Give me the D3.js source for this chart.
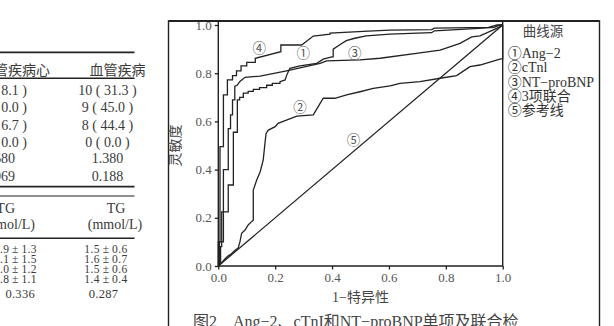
<!DOCTYPE html>
<html><head><meta charset="utf-8">
<script src="https://cdn.jsdelivr.net/npm/d3@7"></script>
<style>body{margin:0;background:#fff;}svg{display:block;}</style>
</head><body>
<svg id="c" width="614" height="326"></svg>
<script>
// ---------- table fragment (left side) ----------
const topHeader = ["管疾病心", "血管疾病"];
const topLeft = ["8.1 )", "0.0 )", "6.7 )", "0.0 )", "680", "069"];
const topRight = ["10 ( 31.3 )", "9 ( 45.0 )", "8 ( 44.4 )", "0 ( 0.0 )", "1.380", "0.188"];
const botHeader1 = ["TG", "TG"];
const botHeader2 = ["(mmol/L)", "(mmol/L)"];
const botLeft = [".9±1.3", ".1±1.5", ".0±1.2", ".8±1.1", "0.336"];
const botRight = ["1.5±0.6", "1.6±0.7", "1.5±0.6", "1.4±0.4", "0.287"];

// ---------- ROC chart data ----------
const xTicks = [0, 0.2, 0.4, 0.6, 0.8, 1.0];
const yTicks = [0, 0.2, 0.4, 0.6, 0.8, 1.0];
const xTitle = "1−特异性";
const yTitle = "灵敏度";
const legendTitle = "曲线源";
const curveMarks = ["①", "②", "③", "④", "⑤"];
const curveNames = ["Ang−2", "cTnl", "NT−proBNP", "3项联合", "参考线"];
const caption = "图2　Ang−2、cTnI和NT−proBNP单项及联合检";

// ① Ang-2
const fprAng2 = [0,0.008,0.008,0.012,0.012,0.035,0.035,0.053,0.053,0.067,0.067,0.075,0.075,0.088,0.088,0.105,0.105,0.123,0.123,0.145,0.145,0.17,0.17,0.19,0.19,0.217,0.217,0.235,0.24,0.246,0.252,0.287,0.346,0.369,0.399,0.404,0.404,0.43,0.45,0.48,0.52,0.604,0.75,0.76,0.9,0.97,0.99,1];
const tprAng2 = [0,0.012,0.08,0.08,0.225,0.225,0.336,0.336,0.555,0.555,0.689,0.689,0.70,0.70,0.717,0.717,0.725,0.725,0.733,0.733,0.74,0.74,0.75,0.75,0.758,0.758,0.765,0.772,0.79,0.806,0.82,0.83,0.841,0.858,0.868,0.868,0.90,0.92,0.935,0.945,0.955,0.962,0.968,0.976,0.985,0.99,1,1];
// ② cTnI
const fprCTnI = [0,0.01,0.024,0.035,0.045,0.059,0.07,0.076,0.082,0.094,0.105,0.117,0.123,0.123,0.135,0.147,0.158,0.164,0.168,0.176,0.2,0.21,0.235,0.276,0.334,0.369,0.41,0.451,0.498,0.545,0.604,0.639,0.709,0.78,0.838,0.885,0.92,0.99,1,1];
const tprCTnI = [0,0.012,0.03,0.042,0.05,0.065,0.075,0.1,0.136,0.149,0.17,0.184,0.19,0.315,0.357,0.39,0.44,0.509,0.55,0.564,0.578,0.592,0.603,0.622,0.627,0.696,0.696,0.71,0.723,0.737,0.747,0.758,0.765,0.779,0.79,0.827,0.834,0.858,0.86,1];
// ③ NT-proBNP
const fprNT = [0,0.004,0.004,0.018,0.018,0.035,0.035,0.043,0.043,0.05,0.05,0.058,0.058,0.067,0.075,0.094,0.147,0.24,0.358,0.381,0.498,0.569,0.709,0.78,0.85,0.891,0.92,0.979,1];
const tprNT = [0,0.01,0.1,0.1,0.4,0.4,0.57,0.57,0.627,0.627,0.689,0.689,0.745,0.751,0.765,0.783,0.788,0.81,0.841,0.851,0.855,0.862,0.884,0.896,0.924,0.951,0.955,0.986,1];
// ④ combined
const fprComb = [0,0,0.006,0.006,0.018,0.018,0.032,0.032,0.05,0.05,0.064,0.064,0.08,0.08,0.1,0.1,0.13,0.13,0.22,0.22,0.293,0.334,0.393,0.393,0.527,0.604,0.75,0.76,0.95,0.98,1];
const tprComb = [0,0.1,0.1,0.495,0.495,0.71,0.71,0.772,0.772,0.79,0.79,0.81,0.81,0.83,0.83,0.845,0.845,0.862,0.889,0.917,0.917,0.954,0.962,0.966,0.975,0.979,0.981,0.987,0.99,1,1];
// ⑤ reference
const fprRef = [0, 1];
const tprRef = [0, 1];
// curve label anchors (in data units)
const markX = [0.299, 0.287, 0.48, 0.144, 0.475];
const markY = [0.882, 0.659, 0.882, 0.903, 0.521];

// ---------- drawing ----------
const svg = d3.select("#c");
const serif = "'Liberation Serif','Noto Sans CJK SC',serif";
const ink = "#222";

// table
const tg = svg.append("g").attr("font-family", serif).attr("fill", "#3a3a3a");
const ruleX1 = 0, ruleX2 = 134.5;
[[52.3,1.8],[78.3,1.5],[186.7,1.8],[196,1.2],[238.3,1.5]].forEach(([yy,w]) =>
  tg.append("line").attr("x1", ruleX1).attr("x2", ruleX2).attr("y1", yy).attr("y2", yy)
    .attr("stroke", "#222").attr("stroke-width", w));
function txt(g, s, xx, yy, anchor, size) {
  return g.append("text").attr("x", xx).attr("y", yy).attr("dy", "0.34em")
    .attr("text-anchor", anchor).attr("font-size", size).text(s);
}
txt(tg, topHeader[0], 50, 70, "end", 14);
txt(tg, topHeader[1], 117.5, 70, "middle", 14);
const topRows = [90, 107.7, 125.3, 142.7, 158.3, 176.7];
topLeft.forEach((s,i) => txt(tg, s, i < 4 ? 27 : 15, topRows[i], "end", 14));
topRight.forEach((s,i) => txt(tg, s, 107.5, topRows[i], "middle", 14));
txt(tg, botHeader1[0], 15, 208.3, "end", 14);
txt(tg, botHeader1[1], 116, 208.3, "middle", 14);
txt(tg, botHeader2[0], 35, 224.3, "end", 14);
txt(tg, botHeader2[1], 115, 224.3, "middle", 14);
const botRows = [249.3, 259.3, 269.3, 279.3, 293.3];
const pm = s => s.replace("±", "\u2009±\u2009");
botLeft.forEach((s,i) => txt(tg, i < 4 ? pm(s) : s, i < 4 ? 37 : 35, botRows[i], "end", i < 4 ? 11.5 : 12.5)
  .attr("letter-spacing", i < 4 ? 0.4 : 0.3));
botRight.forEach((s,i) => txt(tg, i < 4 ? pm(s) : s, i < 4 ? 106 : 103.5, botRows[i], "middle", i < 4 ? 11.5 : 12.5)
  .attr("letter-spacing", i < 4 ? 0.4 : 0.3));

// chart scales
const x = d3.scaleLinear().domain([0, 1]).range([218.3, 502.7]);
const y = d3.scaleLinear().domain([0, 1]).range([266, 25]);
const frameTop = 21, frameLeft = 168.5, frameRight = 599.5;

// outer frame
svg.append("path")
  .attr("d", `M${frameLeft},340V${frameTop}H${frameRight}V340`)
  .attr("fill", "none").attr("stroke", ink).attr("stroke-width", 1.4);
svg.append("line").attr("x1", frameLeft).attr("x2", frameRight).attr("y1", frameTop).attr("y2", frameTop)
  .attr("stroke", ink).attr("stroke-width", 2);
// plot frame
svg.append("path")
  .attr("d", `M${x(0)},${frameTop}V${y(0)}H${x(1)}V${frameTop}`)
  .attr("fill", "none").attr("stroke", ink).attr("stroke-width", 1.4);

// axes
const ax = svg.append("g").attr("transform", `translate(0,${y(0)})`)
  .call(d3.axisBottom(x).tickValues(xTicks).tickFormat(d3.format(".1f")).tickSize(3.5).tickSizeOuter(0).tickPadding(3));
const ay = svg.append("g").attr("transform", `translate(${x(0)},0)`)
  .call(d3.axisLeft(y).tickValues(yTicks).tickFormat(d3.format(".1f")).tickSize(3.5).tickSizeOuter(0).tickPadding(3));
[ax, ay].forEach(g => {
  g.select(".domain").remove();
  g.selectAll(".tick line").attr("stroke", ink).attr("stroke-width", 1.3);
  g.selectAll(".tick text").attr("font-family", serif).attr("font-size", 13).attr("fill", "#555");
});

// axis titles
svg.append("text").attr("x", (x(0) + x(1)) / 2).attr("y", 297).attr("dy", "0.36em")
  .attr("text-anchor", "middle").attr("font-family", serif).attr("font-size", 14).attr("fill", "#444").text(xTitle);
svg.append("text").attr("transform", `translate(175,${(y(0) + y(1)) / 2}) rotate(-90)`).attr("dy", "0.36em")
  .attr("text-anchor", "middle").attr("font-family", serif).attr("font-size", 14).attr("fill", "#444").text(yTitle);

// curves
const curves = [
  [fprAng2, tprAng2], [fprCTnI, tprCTnI], [fprNT, tprNT], [fprComb, tprComb], [fprRef, tprRef]
];
const line = d3.line().x(d => x(d[0])).y(d => y(d[1]));
svg.append("g").selectAll("path").data(curves).join("path")
  .attr("d", c => line(d3.zip(c[0], c[1])))
  .attr("fill", "none").attr("stroke", ink).attr("stroke-width", 1.3).attr("stroke-linejoin", "miter");

// curve markers
svg.append("g").selectAll("text").data(curveMarks).join("text")
  .attr("x", (d, i) => x(markX[i])).attr("y", (d, i) => y(markY[i])).attr("dy", "0.36em")
  .attr("text-anchor", "middle").attr("font-family", serif).attr("font-size", 13.5).attr("fill", "#555")
  .text(d => d);

// legend
svg.append("text").attr("x", (x(1) + frameRight) / 2 - 8).attr("y", 31).attr("dy", "0.36em")
  .attr("text-anchor", "middle").attr("font-family", serif).attr("font-size", 13.5).attr("fill", "#444").text(legendTitle);
svg.append("g").selectAll("text").data(curveNames).join("text")
  .attr("x", x(1) + 5).attr("y", (d, i) => 53.5 + i * 14.2).attr("dy", "0.34em")
  .attr("font-family", serif).attr("font-size", 14).attr("fill", "#333")
  .text((d, i) => curveMarks[i] + d);

// caption
svg.append("text").attr("x", 193).attr("y", 327).attr("font-family", serif).attr("font-size", 16)
  .attr("fill", "#444").text(caption);
</script>
</body></html>
